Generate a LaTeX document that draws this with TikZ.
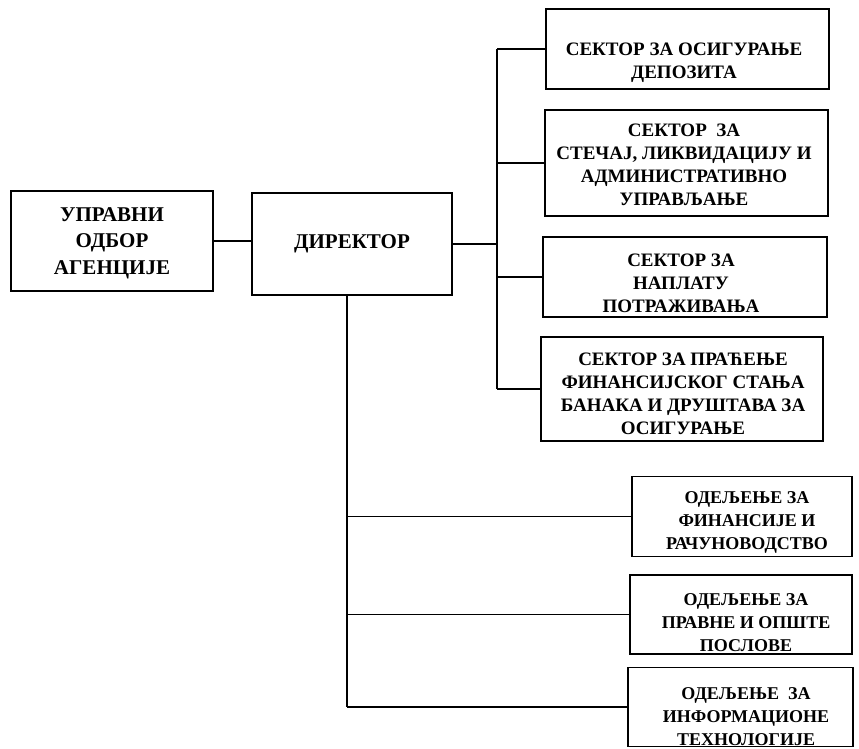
\documentclass[tikz,border=0pt]{standalone}
\usepackage{fontspec}
\setmainfont{Liberation Serif}
\begin{document}
\begin{tikzpicture}[x=1pt,y=-1pt,
  box/.style={draw, line width=1.2pt, rectangle, inner sep=0pt},
  conn/.style={line width=1.2pt},
  txtL/.style={align=center, font=\bfseries\fontsize{21}{26.5}\selectfont, inner sep=0pt},
  txtR/.style={align=center, font=\bfseries\fontsize{19}{23}\selectfont, inner sep=0pt},
  txtO/.style={align=center, font=\bfseries\fontsize{18}{23}\selectfont, inner sep=0pt}]
\useasboundingbox (0,0) rectangle (859,749);
% boxes
\node[box, minimum width=202pt, minimum height=100pt] (upr) at (112,241) {};
\node[box, minimum width=200pt, minimum height=102pt] (dir) at (352,244) {};
\node[box, minimum width=283pt, minimum height=80pt] (s1) at (687.5,49) {};
\node[box, minimum width=283pt, minimum height=106pt] (s2) at (686.5,163) {};
\node[box, minimum width=284pt, minimum height=80pt] (s3) at (685,277) {};
\node[box, minimum width=282pt, minimum height=104pt] (s4) at (682,389) {};
\node[box, minimum width=220pt, minimum height=80pt] (o1) at (742,516.5) {};
\node[box, minimum width=222pt, minimum height=79pt] (o2) at (741,614.5) {};
\node[box, minimum width=225pt, minimum height=79pt] (o3) at (740.5,707) {};
% texts
\node[txtL] (uprt) at (112,243) {УПРАВНИ\\ОДБОР\\АГЕНЦИЈЕ};
\node[txtL] (dirt) at (352,244) {ДИРЕКТОР};
\node[txtR] (s1t) at (684,63) {СЕКТОР ЗА ОСИГУРАЊЕ\\ДЕПОЗИТА};
\node[txtR] (s2t) at (684,165) {СЕКТОР\ \ ЗА\\СТЕЧАЈ, ЛИКВИДАЦИЈУ И\\АДМИНИСТРАТИВНО\\УПРАВЉАЊЕ};
\node[txtR] (s3t) at (681,283) {СЕКТОР ЗА\\НАПЛАТУ\\ПОТРАЖИВАЊА};
\node[txtR] (s4t) at (683,394) {СЕКТОР ЗА ПРАЋЕЊЕ\\ФИНАНСИЈСКОГ СТАЊА\\БАНАКА И ДРУШТАВА ЗА\\ОСИГУРАЊЕ};
\node[txtO] (o1t) at (747,522) {ОДЕЉЕЊЕ ЗА\\ФИНАНСИЈЕ И\\РАЧУНОВОДСТВО};
\node[txtO] (o2t) at (746,623) {ОДЕЉЕЊЕ ЗА\\ПРАВНЕ И ОПШТЕ\\ПОСЛОВЕ};
\node[txtO] (o3t) at (746,717) {ОДЕЉЕЊЕ\ \ ЗА\\ИНФОРМАЦИОНЕ\\ТЕХНОЛОГИЈЕ};
% bus coordinates
\coordinate (rb) at (497,0);
\coordinate (lb) at (347,0);
% connectors
\draw[conn] (upr.east) -- (upr.east -| dir.west);
\draw[conn] (dir.east) -- (dir.east -| rb);
\draw[conn] (rb |- s1.west) -- (rb |- s4.west);
\draw[conn] (rb |- s1.west) -- (s1.west);
\draw[conn] (rb |- s2.west) -- (s2.west);
\draw[conn] (rb |- s3.west) -- (s3.west);
\draw[conn] (rb |- s4.west) -- (s4.west);
\draw[conn] (dir.south -| lb) -- (lb |- o3.west);
\draw[conn] (lb |- o1.west) -- (o1.west);
\draw[conn] (lb |- o2.west) -- (o2.west);
\draw[conn] (lb |- o3.west) -- (o3.west);
\end{tikzpicture}
\end{document}
